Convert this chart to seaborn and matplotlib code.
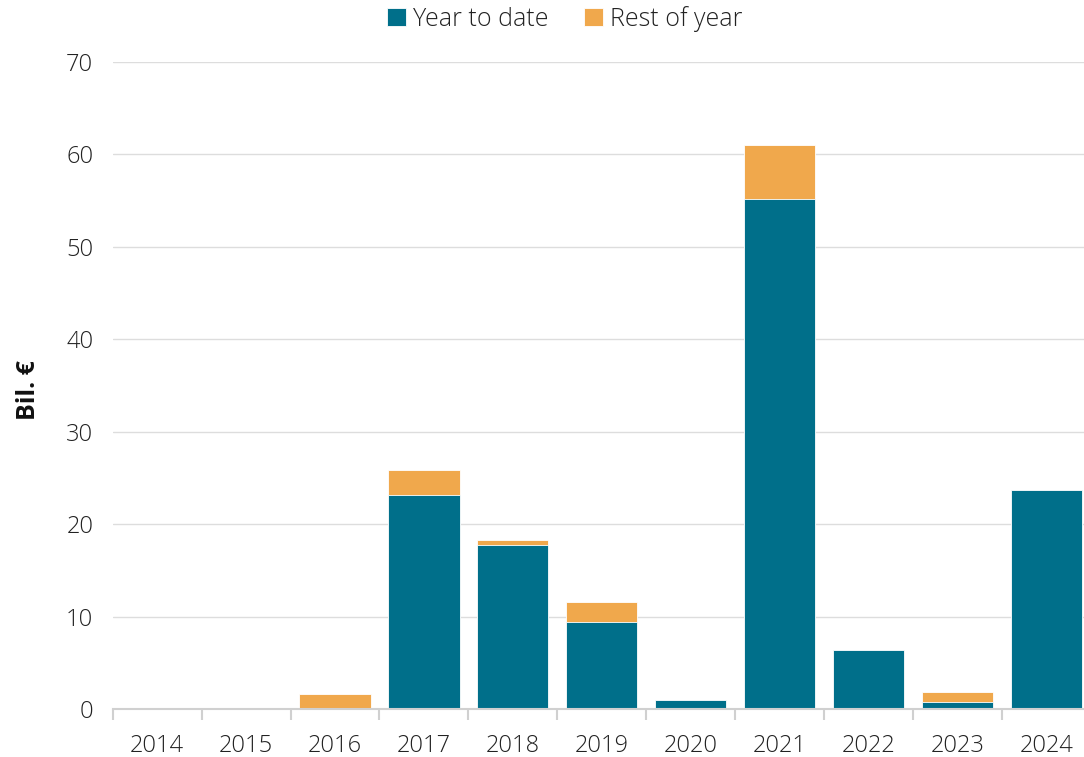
import numpy as np
import pandas as pd
import matplotlib.pyplot as plt
import seaborn as sns

sns.set_theme(style="white")
plt.rcParams["font.family"] = ["Open Sans", "DejaVu Sans"]
plt.rcParams["font.weight"] = "light"

COLORS = {"ytd": "#006F8A", "rest": "#F0A84C", "grid": "#DDDDDD"}

years = ["2014", "2015", "2016", "2017", "2018", "2019", "2020", "2021", "2022", "2023", "2024"]
year_to_date = [0, 0, 0, 23.15, 17.75, 9.4, 0.97, 55.2, 6.4, 0.76, 23.7]
rest_of_year = [0, 0, 1.62, 2.7, 0.53, 2.18, 0, 5.85, 0, 1.08, 0]

df = pd.DataFrame({"year": years, "ytd": year_to_date, "rest": rest_of_year})
df["total"] = df["ytd"] + df["rest"]

fig = plt.figure(figsize=(10.84, 7.57), dpi=100)
# axes run a little past the right edge, as in the original
ax = fig.add_axes([0.104, 0.0635, 0.9023, 0.8545])

sns.barplot(data=df, x="year", y="total", color=COLORS["rest"], saturation=1,
            width=0.8, edgecolor="white", linewidth=0.6, ax=ax, label="Rest of year")
sns.barplot(data=df, x="year", y="ytd", color=COLORS["ytd"], saturation=1,
            width=0.8, edgecolor="white", linewidth=0.6, ax=ax, label="Year to date")
if ax.get_legend() is not None:
    ax.get_legend().remove()

ax.set_ylim(0, 70)
ax.set_xlim(-0.5, len(years) - 0.5)
ax.set_yticks(range(0, 71, 10))
ax.yaxis.grid(True, color=COLORS["grid"], linewidth=1)
ax.set_axisbelow(True)
for s in ["top", "right", "left"]:
    ax.spines[s].set_visible(False)
ax.spines["bottom"].set_color("#D0D0D0")
ax.spines["bottom"].set_linewidth(1.5)

# tick marks sit between the categories
ax.set_xticks(np.arange(-0.5, len(years)), minor=True)
ax.tick_params(axis="x", which="minor", length=8, width=1.5, color="#D0D0D0", bottom=True)
ax.tick_params(axis="x", which="major", length=0, pad=18, labelsize=17, labelcolor="#222222")
ax.tick_params(axis="y", length=0, pad=14, labelsize=17, labelcolor="#222222")

ax.set_xlabel("")
ax.set_ylabel("Bil. €", fontsize=18, fontweight="bold", color="#111111")
ax.yaxis.set_label_coords(-0.073, 0.493)

handles, labels = ax.get_legend_handles_labels()
order = [labels.index("Year to date"), labels.index("Rest of year")]
fig.legend([handles[i] for i in order], [labels[i] for i in order],
           loc="center", bbox_to_anchor=(0.521, 0.975), ncol=2, frameon=False,
           fontsize=18, handlelength=0.75, handleheight=0.75, handletextpad=0.3,
           columnspacing=1.4, labelcolor="#222222")

fig.savefig("out.png", dpi=100)
plt.close()
